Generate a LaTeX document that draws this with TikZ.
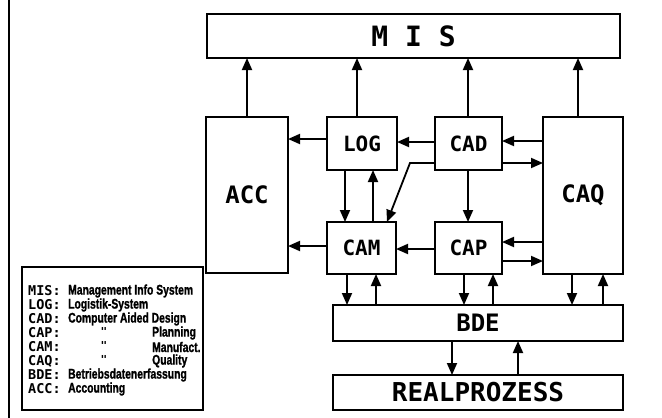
\documentclass[tikz,border=0pt]{standalone}
\usepackage{fontspec}
\setmonofont{DejaVu Sans Mono}
\newfontfamily\legfont{Liberation Sans}[FakeStretch=0.74,FakeBold=1.2,UprightFont=* Bold]
\usetikzlibrary{arrows.meta}
\begin{document}
\begin{tikzpicture}[x=1pt,y=-1pt,
  box/.style={draw,line width=2.4pt,anchor=north west,inner sep=0pt,outer sep=0pt,font=\ttfamily\bfseries\fontsize{24}{24}\selectfont},
  arr/.style={line width=1.8pt,-{Triangle[length=12pt,width=10pt]}},
  leglab/.style={anchor=west,inner sep=0pt,font=\ttfamily\bfseries\fontsize{13.5}{13.5}\selectfont},
  legtxt/.style={anchor=west,inner sep=0pt,font=\legfont\fontsize{14}{14}\selectfont}]
\useasboundingbox (0,0) rectangle (662,418);
\fill[white] (0,0) rectangle (662,418);
\draw[line width=1.5pt] (9,0) -- (9,418);
% boxes
\node[box,minimum width=413pt,minimum height=44pt,font=\ttfamily\bfseries\fontsize{28}{28}\selectfont] (mis) at (207,14) {M I S};
\node[box,minimum width=82pt,minimum height=156pt] (acc) at (206,117) {ACC};
\node[box,minimum width=70pt,minimum height=53pt,font=\ttfamily\bfseries\fontsize{21}{21}\selectfont] (log) at (327,117) {LOG};
\node[box,minimum width=67pt,minimum height=53pt,font=\ttfamily\bfseries\fontsize{21}{21}\selectfont] (cad) at (435,117) {CAD};
\node[box,minimum width=69pt,minimum height=52pt,font=\ttfamily\bfseries\fontsize{21}{21}\selectfont] (cam) at (327,222) {CAM};
\node[box,minimum width=67pt,minimum height=52pt,font=\ttfamily\bfseries\fontsize{21}{21}\selectfont] (cap) at (435,222) {CAP};
\node[box,minimum width=80pt,minimum height=157pt] (caq) at (543,117) {CAQ};
\node[box,minimum width=290pt,minimum height=36pt] (bde) at (333,305) {BDE};
\node[box,minimum width=290pt,minimum height=35pt,font=\ttfamily\bfseries\fontsize{26}{26}\selectfont] (real) at (333,375) {REALPROZESS};
% legend
\node[box,minimum width=181pt,minimum height=143pt] (leg) at (22,267) {};
\node[leglab] (l1) at (28,291) {MIS:};
\node[leglab] (l2) at (28,305) {LOG:};
\node[leglab] (l3) at (28,319) {CAD:};
\node[leglab] (l4) at (28,333) {CAP:};
\node[leglab] (l5) at (28,347) {CAM:};
\node[leglab] (l6) at (28,361) {CAQ:};
\node[leglab] (l7) at (28,375) {BDE:};
\node[leglab] (l8) at (28,389) {ACC:};
\node[legtxt] (t1) at (68,291) {Management Info System};
\node[legtxt] (t2) at (68,305) {Logistik-System};
\node[legtxt] (t3) at (68,319) {Computer Aided Design};
\node[leglab,anchor=center,font=\ttfamily\bfseries\fontsize{11}{11}\selectfont] (d4) at (104,331) {"};
\node[leglab,anchor=center,font=\ttfamily\bfseries\fontsize{11}{11}\selectfont] (d5) at (104,345) {"};
\node[leglab,anchor=center,font=\ttfamily\bfseries\fontsize{11}{11}\selectfont] (d6) at (104,359) {"};
\node[legtxt] (t4) at (152,333) {Planning};
\node[legtxt] (t5) at (152,347) {Manufact.};
\node[legtxt] (t6) at (152,361) {Quality};
\node[legtxt] (t7) at (68,375) {Betriebsdatenerfassung};
\node[legtxt] (t8) at (68,389) {Accounting};
% arrows to MIS
\draw[arr] (acc.north -| 247,0) -- (mis.south -| 247,0);
\draw[arr] (log.north -| 357,0) -- (mis.south -| 357,0);
\draw[arr] (cad.north -| 468,0) -- (mis.south -| 468,0);
\draw[arr] (caq.north -| 578,0) -- (mis.south -| 578,0);
% to ACC
\draw[arr] (log.west |- 0,139) -- (acc.east |- 0,139);
\draw[arr] (cam.west |- 0,246) -- (acc.east |- 0,246);
% middle
\draw[arr] (cad.west |- 0,142) -- (log.east |- 0,142);
\draw[arr] (caq.west |- 0,141) -- (cad.east |- 0,141);
\draw[arr] (cad.east |- 0,163) -- (caq.west |- 0,163);
\coordinate (bend) at (410,163);
\draw[arr] (cad.west |- 0,163) -- (bend) -- (cam.north -| 387,0);
\draw[arr] (log.south -| 345,0) -- (cam.north -| 345,0);
\draw[arr] (cam.north -| 373,0) -- (log.south -| 373,0);
\draw[arr] (cad.south -| 468,0) -- (cap.north -| 468,0);
\draw[arr] (cap.west |- 0,249) -- (cam.east |- 0,249);
\draw[arr] (caq.west |- 0,242) -- (cap.east |- 0,242);
\draw[arr] (cap.east |- 0,261) -- (caq.west |- 0,261);
% to/from BDE
\draw[arr] (cam.south -| 347,0) -- (bde.north -| 347,0);
\draw[arr] (bde.north -| 376,0) -- (cam.south -| 376,0);
\draw[arr] (cap.south -| 464,0) -- (bde.north -| 464,0);
\draw[arr] (bde.north -| 493,0) -- (cap.south -| 493,0);
\draw[arr] (caq.south -| 572,0) -- (bde.north -| 572,0);
\draw[arr] (bde.north -| 603,0) -- (caq.south -| 603,0);
\draw[arr] (bde.south -| 452,0) -- (real.north -| 452,0);
\draw[arr] (real.north -| 518,0) -- (bde.south -| 518,0);
\end{tikzpicture}
\end{document}
